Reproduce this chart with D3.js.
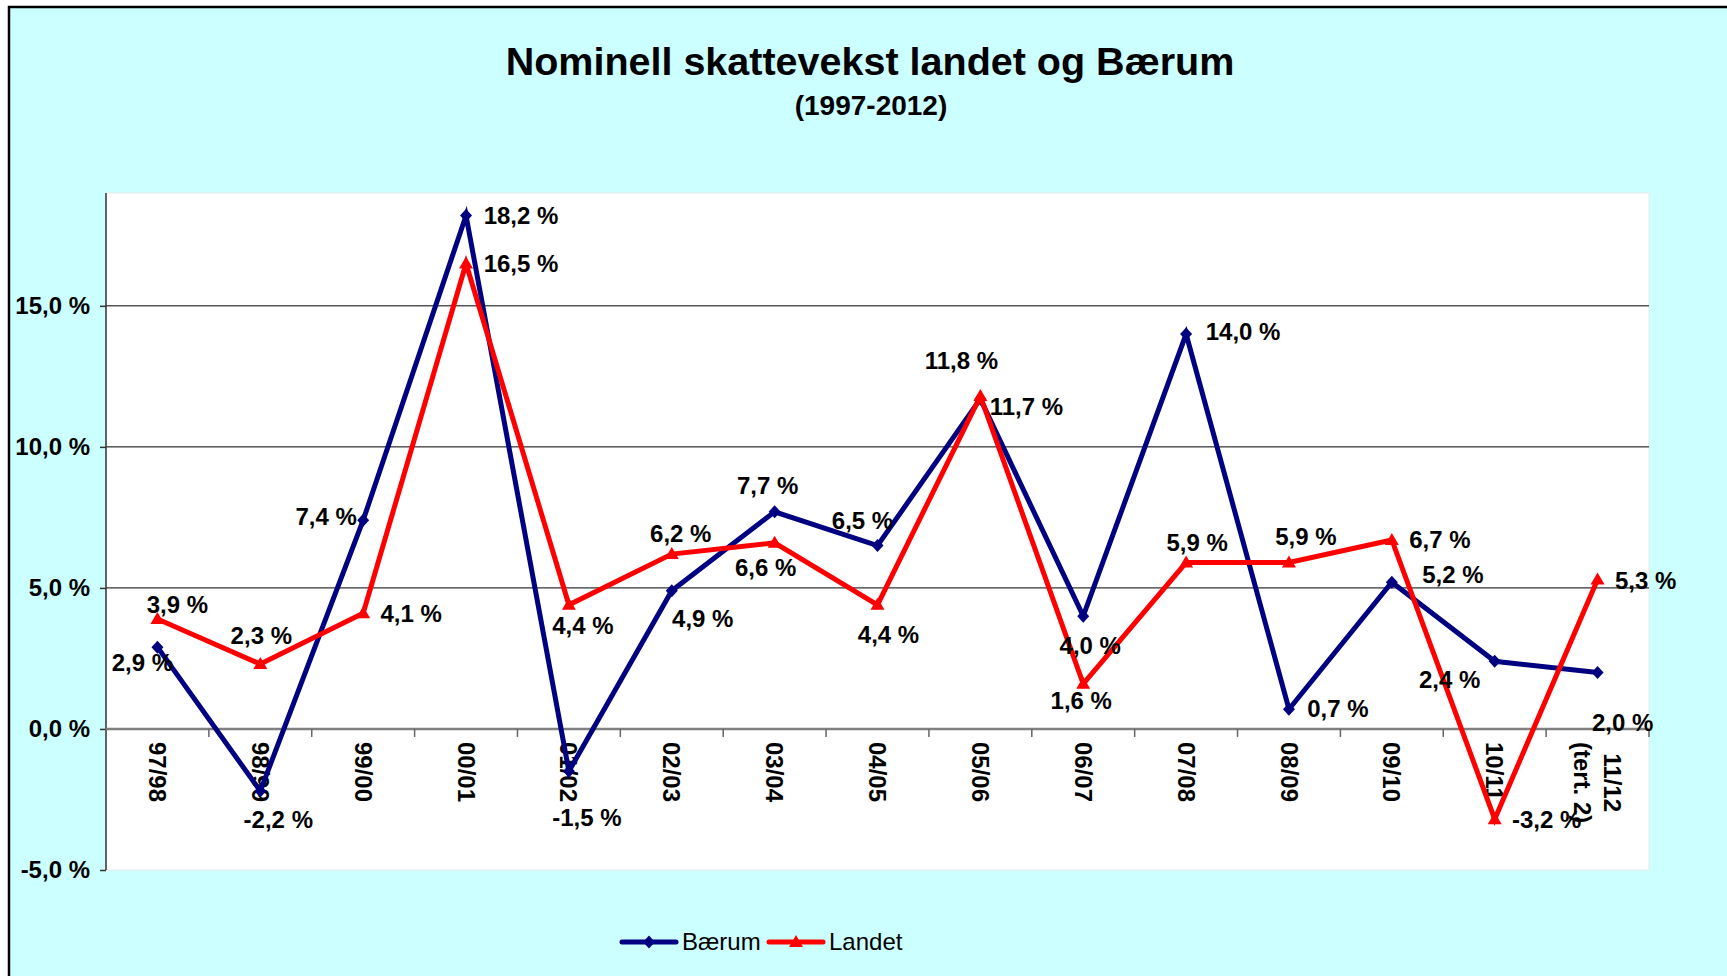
<!DOCTYPE html>
<html><head><meta charset="utf-8">
<script src="https://cdn.jsdelivr.net/npm/d3@7"></script>
<style>body{margin:0;background:#fff;} svg{display:block}</style>
</head><body>
<svg id="chart" width="1727" height="976"></svg>
<script>
// ---- data ----
const categories = ["97/98","98/99","99/00","00/01","01/02","02/03","03/04","04/05","05/06","06/07","07/08","08/09","09/10","10/11","11/12\n(tert. 2)"];
const baerum = [2.9,-2.2,7.4,18.2,-1.5,4.9,7.7,6.5,11.7,4.0,14.0,0.7,5.2,2.4,2.0];
const landet = [3.9,2.3,4.1,16.5,4.4,6.2,6.6,4.4,11.8,1.6,5.9,5.9,6.7,-3.2,5.3];
const yTicks = [-5,0,5,10,15];
const seriesNames = ["Bærum","Landet"];
const titleText = "Nominell skattevekst landet og Bærum";
const subtitleText = "(1997-2012)";

// ---- layout (label offsets from point, px) ----
const baerumLabelOffset = [[-15,15],[18,29],[-37,-4],[55,0],[18,46],[31,28],[-7,-26],[-15,-25],[46,8],[7,29],[57,-2],[49,-1],[61,-8],[-45,18],[25,50]];
const landetLabelOffset = [[20,-14],[1,-28],[48,0],[55,0],[14,21],[9,-20],[-9,25],[11,30],[-19,-36],[-2,17],[11,-20],[17,-26],[48,0],[52,0],[48,1]];

const colors = {"Bærum":"#000080","Landet":"#FF0000"};
const FONT = "'Liberation Sans', Arial, sans-serif";
const plot = {left:106, right:1649, top:193, bottom:870};

const svg = d3.select("#chart");
svg.style("font-family", FONT);

// outer chart area
svg.append("rect").attr("x",9).attr("y",7).attr("width",1800).attr("height",1100)
  .attr("fill","#CCFFFF").attr("stroke","#000").attr("stroke-width",2.5);

// plot area
svg.append("rect").attr("x",plot.left).attr("y",plot.top)
  .attr("width",plot.right-plot.left).attr("height",plot.bottom-plot.top)
  .attr("fill","#fff").attr("stroke","#e8e8e8").attr("stroke-width",1);

const x = d3.scaleBand().domain(categories).range([plot.left, plot.right]).padding(0);
const y = d3.scaleLinear().domain([-5,19]).range([plot.bottom, plot.top]);
const cx = c => x(c) + x.bandwidth()/2;
const fmt = v => v.toFixed(1).replace(".", ",") + " %";

// gridlines
svg.append("g").selectAll("line").data(yTicks.filter(t => t > 0)).join("line")
  .attr("x1",plot.left).attr("x2",plot.right)
  .attr("y1",d=>y(d)).attr("y2",d=>y(d))
  .attr("stroke","#000").attr("stroke-width",1);

// y axis
const yAxis = d3.axisLeft(y).tickValues(yTicks).tickSize(6).tickFormat(fmt);
const gy = svg.append("g").attr("transform",`translate(${plot.left},0)`).call(yAxis);
gy.select(".domain").attr("stroke","#333").attr("stroke-width",1.5).attr("d",`M0,${plot.top}V${plot.bottom}`);
gy.selectAll(".tick line").attr("stroke","#333").attr("stroke-width",1.5);
gy.selectAll(".tick text").attr("x",-16).attr("font-size",24).attr("font-weight","bold")
  .attr("font-family",FONT).attr("fill","#000");

// x axis at zero
const gx = svg.append("g").attr("transform",`translate(0,${y(0)})`);
gx.append("line").attr("x1",plot.left).attr("x2",plot.right).attr("y1",0).attr("y2",0)
  .attr("stroke","#808080").attr("stroke-width",2.5);
const boundaries = categories.map(c => x(c)).concat([plot.right]);
gx.selectAll("line.tk").data(boundaries).join("line").attr("class","tk")
  .attr("x1",d=>d).attr("x2",d=>d).attr("y1",0).attr("y2",8)
  .attr("stroke","#666").attr("stroke-width",1.5);
const xl = gx.selectAll("text.xl").data(categories).join("text").attr("class","xl")
  .attr("transform",d=>`translate(${cx(d)},13) rotate(90)`)
  .attr("font-size",24).attr("font-weight","bold").attr("fill","#000");
xl.each(function(d){
  const lines = d.split("\n");
  const t = d3.select(this);
  if (lines.length === 1) {
    t.append("tspan").attr("x",0).attr("y",0).attr("dy","0.35em").attr("text-anchor","start").text(lines[0]);
  } else {
    const widths = lines.map(l => {
      const tmp = t.append("tspan").text(l); const w = tmp.node().getComputedTextLength(); tmp.remove(); return w;
    });
    const maxW = Math.max(...widths);
    lines.forEach((l,i) => {
      t.append("tspan").attr("x", maxW/2).attr("y", (i - (lines.length-1)/2) * 30)
        .attr("dy","0.35em").attr("text-anchor","middle").text(l);
    });
  }
});

// lines
const series = [
  {name:"Bærum", values:baerum, offsets:baerumLabelOffset},
  {name:"Landet", values:landet, offsets:landetLabelOffset}
];
const line = d3.line().x((d,i)=>cx(categories[i])).y(d=>y(d));
const markerPath = {
  "Bærum": "M0,-6.5L6,0L0,6.5L-6,0Z",
  "Landet": "M0,-7L7,5L-7,5Z"
};
series.forEach(s => {
  svg.append("path").datum(s.values).attr("d",line)
    .attr("fill","none").attr("stroke",colors[s.name]).attr("stroke-width",5)
    .attr("stroke-linejoin","miter");
  svg.append("g").selectAll("path").data(s.values).join("path")
    .attr("d",markerPath[s.name])
    .attr("transform",(d,i)=>`translate(${cx(categories[i])},${y(d)})`)
    .attr("fill",colors[s.name]);
});

// data labels
series.forEach(s => {
  svg.append("g").selectAll("text").data(s.values).join("text")
    .attr("x",(d,i)=>cx(categories[i]) + s.offsets[i][0])
    .attr("y",(d,i)=>y(d) + s.offsets[i][1])
    .attr("dy","0.35em").attr("text-anchor","middle")
    .attr("font-size",24).attr("font-weight","bold").attr("fill","#000")
    .text(d=>fmt(d));
});

// title
svg.append("text").attr("x",870).attr("y",75).attr("text-anchor","middle")
  .attr("font-size",39.5).attr("font-weight","bold").text(titleText);
svg.append("text").attr("x",871).attr("y",115).attr("text-anchor","middle")
  .attr("font-size",28).attr("font-weight","bold").text(subtitleText);

// legend
const legendX = [622, 769];
const lg = svg.append("g");
seriesNames.forEach((n,i) => {
  const g = lg.append("g").attr("transform",`translate(${legendX[i]},942)`);
  g.append("line").attr("x1",0).attr("x2",54).attr("y1",0).attr("y2",0)
    .attr("stroke",colors[n]).attr("stroke-width",5).attr("stroke-linecap","round");
  g.append("path").attr("d",markerPath[n]).attr("transform","translate(27,0)").attr("fill",colors[n]);
  g.append("text").attr("x",60).attr("y",0).attr("dy","0.35em")
    .attr("font-size",24).attr("fill","#000").text(n);
});
</script>
</body></html>
